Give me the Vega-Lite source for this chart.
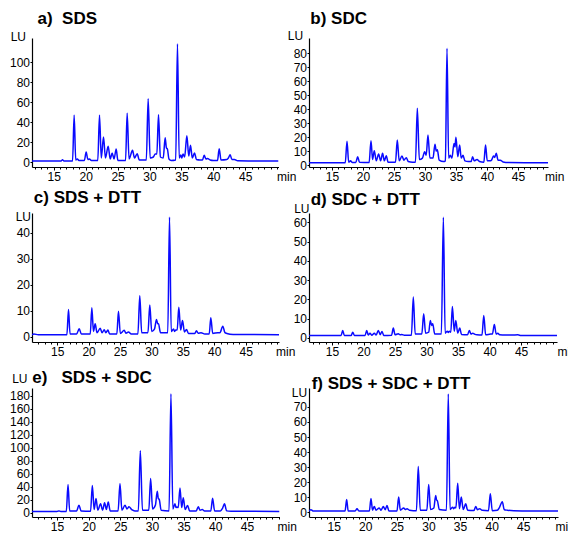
{
  "$schema": "https://vega.github.io/schema/vega-lite/v6.json",
  "padding": {"left": 9, "top": 10, "right": 0, "bottom": 0},
  "background": "white",
  "columns": 2,
  "align": "all",
  "bounds": "flush",
  "spacing": {"row": 46, "column": 28},
  "datasets": {
    "a": [
      {"t":11.6,"v":1},{"t":16.15,"v":1},{"t":16.38,"v":2.2},{"t":16.6,"v":1},
      {"t":17.95,"v":1},{"t":18.2,"v":46.7},{"t":18.45,"v":2},{"t":18.7,"v":3},{"t":18.95,"v":1.5},
      {"t":19.8,"v":1.5},{"t":20.08,"v":10},{"t":20.35,"v":2.5},{"t":20.6,"v":3},{"t":20.9,"v":1.5},
      {"t":21.9,"v":1.5},{"t":22.17,"v":46.7},{"t":22.45,"v":4},{"t":22.8,"v":25},{"t":23.1,"v":4},{"t":23.53,"v":15.7},{"t":23.85,"v":3},{"t":24.15,"v":9},{"t":24.45,"v":3},{"t":24.78,"v":13},{"t":25.05,"v":1.5},
      {"t":26.25,"v":1.5},{"t":26.5,"v":48.7},{"t":26.8,"v":3},{"t":27.34,"v":11.7},{"t":27.65,"v":4},{"t":28.07,"v":8.3},{"t":28.4,"v":2},
      {"t":29.5,"v":2},{"t":29.79,"v":63.3},{"t":30.1,"v":4},{"t":30.6,"v":5},{"t":30.9,"v":8},{"t":31.15,"v":8},{"t":31.41,"v":47.3},{"t":31.7,"v":5},{"t":32.15,"v":4},{"t":32.45,"v":24.3},{"t":32.65,"v":14},{"t":32.8,"v":13},{"t":33.05,"v":3},{"t":33.4,"v":1.5},
      {"t":34.1,"v":2},{"t":34.38,"v":118.3},{"t":34.65,"v":4},{"t":34.9,"v":7},{"t":35.05,"v":4},{"t":35.25,"v":8},{"t":35.5,"v":5},{"t":35.85,"v":26.3},{"t":36.15,"v":6},{"t":36.42,"v":16.7},{"t":36.7,"v":4},{"t":37.05,"v":9},{"t":37.35,"v":2.5},{"t":37.9,"v":2},
      {"t":38.3,"v":2},{"t":38.56,"v":6.7},{"t":38.85,"v":3},{"t":39.1,"v":3.5},{"t":39.5,"v":2},{"t":40.0,"v":1.5},
      {"t":40.65,"v":1.5},{"t":40.91,"v":13.3},{"t":41.2,"v":2},{"t":42.1,"v":2.5},{"t":42.35,"v":4},{"t":42.63,"v":7.3},{"t":42.9,"v":2.5},{"t":43.3,"v":2.5},{"t":43.8,"v":1.2},{"t":50.2,"v":1}
    ],
    "b": [
      {"t":11.3,"v":1.6},{"t":17.15,"v":1.6},{"t":17.43,"v":17},{"t":17.7,"v":2},{"t":18.0,"v":3},{"t":18.3,"v":1.8},
      {"t":18.85,"v":1.8},{"t":19.14,"v":6},{"t":19.45,"v":2},{"t":21.0,"v":1.8},{"t":21.3,"v":17.5},{"t":21.55,"v":4},{"t":21.83,"v":10.3},{"t":22.15,"v":3},{"t":22.53,"v":7.9},{"t":22.85,"v":3},{"t":23.17,"v":8.4},{"t":23.45,"v":3},{"t":23.77,"v":6.7},{"t":24.05,"v":2},
      {"t":25.25,"v":2},{"t":25.54,"v":17.9},{"t":25.85,"v":3},{"t":26.3,"v":6.5},{"t":26.6,"v":3.5},{"t":26.99,"v":5.3},{"t":27.3,"v":2.5},{"t":28.0,"v":2},
      {"t":28.47,"v":2},{"t":28.77,"v":40.7},{"t":29.1,"v":4},{"t":29.6,"v":5},{"t":29.95,"v":9.6},{"t":30.2,"v":7},{"t":30.49,"v":21.5},{"t":30.8,"v":5},{"t":31.3,"v":5},{"t":31.62,"v":15},{"t":31.82,"v":10},{"t":32.0,"v":11},{"t":32.3,"v":3.5},{"t":33.0,"v":2.5},
      {"t":33.3,"v":3},{"t":33.56,"v":83.7},{"t":33.82,"v":5},{"t":34.09,"v":7},{"t":34.35,"v":5},{"t":34.69,"v":15.5},{"t":34.85,"v":13},{"t":35.0,"v":19.9},{"t":35.3,"v":6},{"t":35.6,"v":14.4},{"t":35.85,"v":5},{"t":36.14,"v":7},{"t":36.45,"v":3},{"t":37.0,"v":2.5},
      {"t":37.45,"v":2.5},{"t":37.69,"v":6},{"t":37.95,"v":3},{"t":38.4,"v":4},{"t":38.8,"v":2.5},{"t":39.5,"v":2},{"t":39.78,"v":14.4},{"t":40.05,"v":3},{"t":40.6,"v":3},{"t":40.8,"v":4},{"t":41.07,"v":6.5},{"t":41.25,"v":5.5},{"t":41.5,"v":8.4},{"t":41.8,"v":3.5},{"t":42.16,"v":3.5},{"t":42.6,"v":2.2},{"t":43.5,"v":1.8},{"t":49.85,"v":1.6}
    ],
    "c": [
      {"t":11.0,"v":0.7},{"t":11.3,"v":1.0},{"t":12.0,"v":0.7},{"t":16.55,"v":0.7},{"t":16.81,"v":10.4},{"t":17.05,"v":1},{"t":18.1,"v":1},{"t":18.51,"v":3},{"t":18.85,"v":1},
      {"t":20.27,"v":1},{"t":20.52,"v":11.1},{"t":20.78,"v":2},{"t":21.05,"v":4.9},{"t":21.35,"v":1.5},{"t":21.85,"v":3.2},{"t":22.15,"v":1.5},{"t":22.49,"v":2.6},{"t":22.75,"v":1.5},{"t":23.07,"v":2.5},{"t":23.35,"v":1},
      {"t":24.5,"v":1},{"t":24.76,"v":9.8},{"t":25.05,"v":1.2},{"t":25.67,"v":2.4},{"t":25.95,"v":1.3},{"t":26.35,"v":1.8},{"t":26.8,"v":1},{"t":27.85,"v":1},{"t":28.15,"v":15.8},{"t":28.45,"v":1.5},
      {"t":29.45,"v":1.5},{"t":29.74,"v":12.2},{"t":30.05,"v":2},{"t":30.5,"v":3},{"t":30.81,"v":6.6},{"t":31.0,"v":5},{"t":31.13,"v":4.9},{"t":31.45,"v":1.5},{"t":32.6,"v":1.5},{"t":32.88,"v":46.1},{"t":33.15,"v":2},{"t":33.52,"v":2.9},{"t":33.7,"v":2},{"t":33.88,"v":2.5},{"t":34.1,"v":2.5},{"t":34.36,"v":11.3},{"t":34.65,"v":2.5},{"t":34.95,"v":6.2},{"t":35.25,"v":1.8},{"t":35.58,"v":2.7},{"t":35.9,"v":1.2},
      {"t":36.9,"v":1.2},{"t":37.17,"v":2.2},{"t":37.45,"v":1.3},{"t":37.9,"v":1.5},{"t":38.5,"v":1},{"t":39.2,"v":1},{"t":39.45,"v":7.3},{"t":39.75,"v":1.2},{"t":40.56,"v":1.5},{"t":40.9,"v":1.5},{"t":41.36,"v":4},{"t":41.7,"v":1.5},{"t":42.0,"v":1.2},{"t":43.0,"v":0.8},{"t":50.3,"v":0.7}
    ],
    "d": [
      {"t":11.35,"v":1.3},{"t":16.45,"v":1.3},{"t":16.7,"v":3.9},{"t":16.95,"v":1.3},{"t":18.05,"v":1.3},{"t":18.29,"v":3},{"t":18.55,"v":1.3},
      {"t":20.25,"v":1.3},{"t":20.51,"v":3.9},{"t":20.75,"v":1.5},{"t":21.03,"v":2.5},{"t":21.3,"v":1.4},{"t":21.72,"v":2.5},{"t":22.0,"v":1.5},{"t":22.35,"v":3.9},{"t":22.65,"v":1.7},{"t":22.94,"v":3.4},{"t":23.2,"v":1.3},
      {"t":24.45,"v":1.4},{"t":24.73,"v":5.1},{"t":25.0,"v":1.6},{"t":25.52,"v":2.2},{"t":25.8,"v":1.6},{"t":26.06,"v":1.8},{"t":26.5,"v":1.4},
      {"t":27.6,"v":1.4},{"t":27.9,"v":21.2},{"t":28.2,"v":2},{"t":29.25,"v":2},{"t":29.55,"v":12.5},{"t":29.85,"v":2.5},{"t":30.35,"v":3},{"t":30.6,"v":9.1},{"t":30.8,"v":6.5},{"t":30.98,"v":7.3},{"t":31.3,"v":2},{"t":32.35,"v":2},{"t":32.67,"v":62.6},{"t":32.95,"v":2.5},{"t":33.3,"v":3.5},{"t":33.45,"v":2.8},{"t":33.62,"v":3.5},{"t":33.85,"v":3},{"t":34.1,"v":16.3},{"t":34.4,"v":3.5},{"t":34.64,"v":9.1},{"t":34.95,"v":2.5},{"t":35.27,"v":5.1},{"t":35.55,"v":1.8},
      {"t":36.5,"v":1.6},{"t":36.79,"v":3.9},{"t":37.05,"v":2},{"t":37.33,"v":2.5},{"t":37.6,"v":2},{"t":38.0,"v":1.6},{"t":38.8,"v":1.5},{"t":39.08,"v":11.7},{"t":39.38,"v":1.6},{"t":40.2,"v":2},{"t":40.45,"v":2},{"t":40.76,"v":7},{"t":41.05,"v":2},{"t":41.3,"v":2.5},{"t":41.6,"v":1.6},{"t":42.5,"v":1.5},{"t":43.5,"v":1.5},{"t":44.5,"v":1.6},{"t":45.0,"v":1.3},{"t":50.7,"v":1.3}
    ],
    "e": [
      {"t":11.05,"v":2},{"t":15.0,"v":2},{"t":15.3,"v":3},{"t":15.6,"v":2},{"t":16.47,"v":2},{"t":16.74,"v":43.4},{"t":17.0,"v":3},{"t":18.1,"v":3},{"t":18.47,"v":11.7},{"t":18.8,"v":3},
      {"t":20.3,"v":2.5},{"t":20.58,"v":41.8},{"t":20.87,"v":5},{"t":21.16,"v":21.9},{"t":21.45,"v":4},{"t":21.89,"v":13.8},{"t":22.2,"v":4},{"t":22.52,"v":15.3},{"t":22.8,"v":5},{"t":23.1,"v":16.8},{"t":23.4,"v":3},
      {"t":24.65,"v":3},{"t":24.95,"v":44.9},{"t":25.25,"v":4},{"t":25.74,"v":11.7},{"t":26.05,"v":6},{"t":26.37,"v":9.2},{"t":26.8,"v":5},{"t":27.3,"v":3},{"t":27.85,"v":3},{"t":28.16,"v":95.4},{"t":28.5,"v":4},
      {"t":29.5,"v":4},{"t":29.79,"v":52.6},{"t":30.1,"v":6},{"t":30.55,"v":12},{"t":30.84,"v":33.2},{"t":31.0,"v":22},{"t":31.16,"v":20.4},{"t":31.45,"v":4},{"t":32.7,"v":3},{"t":33.0,"v":182.7},{"t":33.3,"v":6},{"t":33.64,"v":13.8},{"t":33.8,"v":8},{"t":33.96,"v":9},{"t":34.15,"v":8},{"t":34.43,"v":38.3},{"t":34.7,"v":8},{"t":34.95,"v":23},{"t":35.25,"v":5},{"t":35.63,"v":11.2},{"t":35.95,"v":3},
      {"t":37.0,"v":3},{"t":37.32,"v":9.2},{"t":37.6,"v":4},{"t":37.95,"v":5},{"t":38.3,"v":3},{"t":39.3,"v":3},{"t":39.58,"v":22.4},{"t":39.9,"v":3},{"t":40.8,"v":3},{"t":41.15,"v":7},{"t":41.46,"v":13.8},{"t":41.8,"v":3},{"t":42.5,"v":2.5},{"t":50.15,"v":2}
    ],
    "f": [
      {"t":11.1,"v":0.9},{"t":11.4,"v":1.8},{"t":11.8,"v":0.9},{"t":16.8,"v":0.9},{"t":17.06,"v":8.6},{"t":17.3,"v":1},{"t":18.4,"v":1},{"t":18.7,"v":2.4},{"t":19.0,"v":1},
      {"t":20.65,"v":1},{"t":20.91,"v":9.3},{"t":21.15,"v":1.5},{"t":21.43,"v":4},{"t":21.7,"v":1.5},{"t":22.22,"v":3},{"t":22.5,"v":1.5},{"t":22.86,"v":4},{"t":23.15,"v":1.8},{"t":23.44,"v":4.6},{"t":23.75,"v":1},
      {"t":25.02,"v":1},{"t":25.29,"v":10.2},{"t":25.55,"v":1.5},{"t":26.08,"v":3},{"t":26.35,"v":2},{"t":26.61,"v":2.5},{"t":27.0,"v":1.5},{"t":27.6,"v":1.2},{"t":28.1,"v":1.2},{"t":28.39,"v":30.5},{"t":28.7,"v":1.5},
      {"t":29.75,"v":1.5},{"t":30.04,"v":18.5},{"t":30.33,"v":2},{"t":30.85,"v":3},{"t":31.15,"v":11.3},{"t":31.3,"v":8},{"t":31.4,"v":8},{"t":31.7,"v":2},{"t":32.85,"v":1.5},{"t":33.14,"v":78.6},{"t":33.42,"v":2},{"t":33.84,"v":3.5},{"t":34.0,"v":2.5},{"t":34.2,"v":3.5},{"t":34.35,"v":3},{"t":34.63,"v":19.4},{"t":34.9,"v":2.5},{"t":35.2,"v":10.2},{"t":35.5,"v":2},{"t":35.9,"v":5.7},{"t":36.2,"v":1.5},
      {"t":37.2,"v":1.3},{"t":37.48,"v":4},{"t":37.75,"v":1.8},{"t":38.11,"v":2.5},{"t":38.5,"v":1.5},{"t":39.5,"v":1.2},{"t":39.79,"v":12.4},{"t":40.1,"v":1.2},{"t":40.9,"v":1.5},{"t":41.2,"v":3},{"t":41.69,"v":7.1},{"t":42.0,"v":1.8},{"t":42.5,"v":1.5},{"t":43.5,"v":1.2},{"t":50.5,"v":0.9}
    ]
  },
  "concat": [
    {
      "width": 246.5, "height": 129,
      "data": {"name": "a"},
      "title": {"text": "a)\u00a0\u00a0SDS", "offset": 2.4, "dx": 5.5},
      "resolve": {"axis": {"x": "independent", "y": "independent"}},
      "layer": [
        {"mark": {"type": "line", "clip": true},
         "encoding": {
          "x": {"field": "t", "type": "quantitative", "scale": {"domain": [11.6, 50.2], "nice": false, "zero": false},
                "axis": {"values": [15,20,25,30,35,40,45], "title": "min", "titleX": 244.5, "orient": "bottom"}},
          "y": {"field": "v", "type": "quantitative", "scale": {"domain": [-5, 124], "nice": false, "zero": false},
                "axis": {"values": [0,20,40,60,80,100], "labelOverlap": false, "title": "LU", "titleX": -6.5, "titleY": -1.3}}}},
        {"mark": {"type": "line", "opacity": 0},
         "encoding": {
          "x": {"field": "t", "type": "quantitative",
                "axis": {"values": [12,13,14,16,17,18,19,21,22,23,24,26,27,28,29,31,32,33,34,36,37,38,39,41,42,43,44,46,47,48,49,50], "labels": false, "domain": false, "tickSize": 2, "title": null, "orient": "bottom"}},
          "y": {"field": "v", "type": "quantitative", "axis": null}}}
      ]
    },
    {
      "width": 239, "height": 129,
      "data": {"name": "b"},
      "title": {"text": "b)\u00a0SDC", "offset": 1.2, "dx": 1.3},
      "resolve": {"axis": {"x": "independent", "y": "independent"}},
      "layer": [
        {"mark": {"type": "line", "clip": true},
         "encoding": {
          "x": {"field": "t", "type": "quantitative", "scale": {"domain": [11.3, 49.85], "nice": false, "zero": false},
                "axis": {"values": [15,20,25,30,35,40,45], "title": "min", "titleX": 235.5, "orient": "bottom"}},
          "y": {"field": "v", "type": "quantitative", "scale": {"domain": [-1.4, 91.1], "nice": false, "zero": false},
                "axis": {"values": [0,10,20,30,40,50,60,70,80], "labelOverlap": false, "title": "LU", "titleX": -6.4, "titleY": -2.5}}}},
        {"mark": {"type": "line", "opacity": 0},
         "encoding": {
          "x": {"field": "t", "type": "quantitative",
                "axis": {"values": [12,13,14,16,17,18,19,21,22,23,24,26,27,28,29,31,32,33,34,36,37,38,39,41,42,43,44,46,47,48,49], "labels": false, "domain": false, "tickSize": 2, "title": null, "orient": "bottom"}},
          "y": {"field": "v", "type": "quantitative", "axis": null}}}
      ]
    },
    {
      "width": 247, "height": 129,
      "data": {"name": "c"},
      "title": {"text": "c) SDS + DTT", "offset": 3.1, "dx": 1.8},
      "resolve": {"axis": {"x": "independent", "y": "independent"}},
      "layer": [
        {"mark": {"type": "line", "clip": true},
         "encoding": {
          "x": {"field": "t", "type": "quantitative", "scale": {"domain": [11.0, 50.3], "nice": false, "zero": false},
                "axis": {"values": [15,20,25,30,35,40,45], "title": "min", "titleX": 243.5, "orient": "bottom"}},
          "y": {"field": "v", "type": "quantitative", "scale": {"domain": [-2.1, 47.7], "nice": false, "zero": false},
                "axis": {"values": [0,10,20,30,40], "labelOverlap": false, "title": "LU", "titleX": -1.5, "titleY": 3.3}}}},
        {"mark": {"type": "line", "opacity": 0},
         "encoding": {
          "x": {"field": "t", "type": "quantitative",
                "axis": {"values": [12,13,14,16,17,18,19,21,22,23,24,26,27,28,29,31,32,33,34,36,37,38,39,41,42,43,44,46,47,48,49,50], "labels": false, "domain": false, "tickSize": 2, "title": null, "orient": "bottom"}},
          "y": {"field": "v", "type": "quantitative", "axis": null}}}
      ]
    },
    {
      "width": 248, "height": 129,
      "data": {"name": "d"},
      "title": {"text": "d) SDC + DTT", "offset": -6.8, "dx": 1.7},
      "resolve": {"axis": {"x": "independent", "y": "independent"}},
      "layer": [
        {"mark": {"type": "line", "clip": true},
         "encoding": {
          "x": {"field": "t", "type": "quantitative", "scale": {"domain": [11.35, 50.7], "nice": false, "zero": false},
                "axis": {"values": [15,20,25,30,35,40,45], "title": "min", "titleX": 248, "orient": "bottom"}},
          "y": {"field": "v", "type": "quantitative", "scale": {"domain": [-2.1, 64.8], "nice": false, "zero": false},
                "axis": {"values": [0,10,20,30,40,50,60], "labelOverlap": false, "title": "LU", "titleX": 0, "titleY": -5}}}},
        {"mark": {"type": "line", "opacity": 0},
         "encoding": {
          "x": {"field": "t", "type": "quantitative",
                "axis": {"values": [12,13,14,16,17,18,19,21,22,23,24,26,27,28,29,31,32,33,34,36,37,38,39,41,42,43,44,46,47,48,49,50], "labels": false, "domain": false, "tickSize": 2, "title": null, "orient": "bottom"}},
          "y": {"field": "v", "type": "quantitative", "axis": null}}}
      ]
    },
    {
      "width": 247.5, "height": 129,
      "data": {"name": "e"},
      "title": {"text": "e)\u00a0\u00a0\u00a0SDS + SDC", "offset": -14.3, "dx": 0.2},
      "resolve": {"axis": {"x": "independent", "y": "independent"}},
      "layer": [
        {"mark": {"type": "line", "clip": true},
         "encoding": {
          "x": {"field": "t", "type": "quantitative", "scale": {"domain": [11.05, 50.15], "nice": false, "zero": false},
                "axis": {"values": [15,20,25,30,35,40,45], "title": "min", "titleX": 245, "orient": "bottom"}},
          "y": {"field": "v", "type": "quantitative", "scale": {"domain": [-6.4, 191.7], "nice": false, "zero": false},
                "axis": {"values": [0,20,40,60,80,100,120,140,160,180], "labelOverlap": false, "title": "LU", "titleX": -5, "titleY": -9.5}}}},
        {"mark": {"type": "line", "opacity": 0},
         "encoding": {
          "x": {"field": "t", "type": "quantitative",
                "axis": {"values": [12,13,14,16,17,18,19,21,22,23,24,26,27,28,29,31,32,33,34,36,37,38,39,41,42,43,44,46,47,48,49,50], "labels": false, "domain": false, "tickSize": 2, "title": null, "orient": "bottom"}},
          "y": {"field": "v", "type": "quantitative", "axis": null}}}
      ]
    },
    {
      "width": 249, "height": 129,
      "data": {"name": "f"},
      "title": {"text": "f) SDS + SDC + DTT", "offset": -7.2, "dx": 2.7},
      "resolve": {"axis": {"x": "independent", "y": "independent"}},
      "layer": [
        {"mark": {"type": "line", "clip": true},
         "encoding": {
          "x": {"field": "t", "type": "quantitative", "scale": {"domain": [11.1, 50.5], "nice": false, "zero": false},
                "axis": {"values": [15,20,25,30,35,40,45], "title": "min", "titleX": 246, "orient": "bottom"}},
          "y": {"field": "v", "type": "quantitative", "scale": {"domain": [-3, 82.5], "nice": false, "zero": false},
                "axis": {"values": [0,10,20,30,40,50,60,70], "labelOverlap": false, "title": "LU", "titleX": -2.3, "titleY": 4}}}},
        {"mark": {"type": "line", "opacity": 0},
         "encoding": {
          "x": {"field": "t", "type": "quantitative",
                "axis": {"values": [12,13,14,16,17,18,19,21,22,23,24,26,27,28,29,31,32,33,34,36,37,38,39,41,42,43,44,46,47,48,49,50], "labels": false, "domain": false, "tickSize": 2, "title": null, "orient": "bottom"}},
          "y": {"field": "v", "type": "quantitative", "axis": null}}}
      ]
    }
  ],
  "config": {
    "font": "Liberation Sans",
    "view": {"stroke": null},
    "axis": {
      "grid": false, "domainColor": "#000", "tickColor": "#000", "labelColor": "#000", "titleColor": "#000",
      "labelFontSize": 12, "titleFontSize": 12, "titleFontWeight": "normal",
      "labelFont": "Liberation Sans", "titleFont": "Liberation Sans",
      "domainWidth": 1.2, "tickWidth": 1, "labelOverlap": false
    },
    "axisX": {"tickSize": 3, "labelPadding": 1.5, "titleAlign": "left", "titleBaseline": "top", "titleY": 4.5, "titleAngle": 0},
    "axisY": {"tickSize": 2, "labelPadding": 0.5, "titleAngle": 0, "titleAlign": "right", "titleBaseline": "middle"},
    "title": {"anchor": "start", "fontSize": 17, "fontWeight": "bold", "font": "Liberation Sans", "color": "#000", "baseline": "alphabetic", "frame": "group"},
    "line": {"color": "#0a0aff", "strokeWidth": 1.5, "interpolate": "monotone"}
  }
}
